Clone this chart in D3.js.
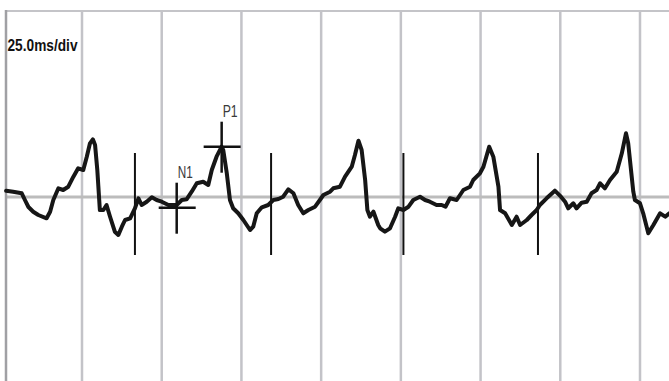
<!DOCTYPE html>
<html>
<head>
<meta charset="utf-8">
<script src="https://cdn.jsdelivr.net/npm/d3@7"></script>
<style>
  html, body { margin: 0; padding: 0; background: #fff; }
  svg { display: block; }
</style>
</head>
<body>
<div id="chart"></div>
<script>
// data (time in ms, amplitude in arbitrary units)
const traceTimes = [1.2, 3.4, 6.1, 7.1, 8.2, 9.7, 11.3, 13.9, 15.0, 16.0, 17.6, 19.1, 20.7, 22.3, 23.8,
    25.4, 26.5, 27.5, 28.4, 29.1, 29.8, 30.6, 31.7, 32.7, 33.8, 35.3, 36.4, 37.5, 38.5, 40.1,
    41.6, 42.7, 43.7, 45.3, 46.9, 48.4, 50.0, 52.1, 54.7, 56.3, 57.8, 59.4, 61.0, 63.0, 64.6,
    65.7, 67.2, 68.8, 69.3, 70.4, 71.4, 72.4, 74.0, 75.6, 77.7, 78.7, 79.8, 81.4, 83.4, 85.0,
    86.6, 88.1, 89.7, 91.3, 92.8, 94.4, 96.0, 98.1, 99.6, 100.7, 102.8, 103.8, 105.9, 107.5, 109.6,
    110.6, 111.7, 112.7, 113.8, 114.5, 115.3, 116.4, 117.9, 118.5, 120.0, 121.6, 123.2, 124.2, 125.8, 127.4,
    128.9, 131.0, 132.6, 134.1, 136.2, 137.8, 139.0, 140.4, 142.5, 144.6, 146.7, 147.7, 149.8, 150.9, 152.7,
    154.0, 155.6, 156.1, 157.7, 159.8, 161.3, 162.4, 164.5, 166.0, 167.6, 168.6, 170.7, 173.3, 175.2, 176.5,
    177.5, 179.1, 180.1, 181.7, 183.3, 184.8, 186.4, 187.5, 189.0, 190.6, 192.7, 194.3, 195.6, 196.3, 197.9,
    198.4, 200.0, 201.0, 202.6, 204.2, 206.3, 207.9, 209.2];
const traceValues = [0.63, 0.53, 0.37, -0.3, -1.0, -1.47, -1.8, -2.13, -1.47, -0.3, 0.87, 0.7, 1.03, 2.03, 2.87,
    2.7, 4.03, 5.37, 5.77, 5.2, 2.7, -1.3, -1.3, -0.8, -1.97, -3.47, -3.8, -2.97, -2.3, -2.13,
    -1.13, -0.13, -0.8, -0.47, -0.03, -0.3, -0.47, -0.8, -0.8, -0.3, -0.23, 0.53, 1.37, 1.53, 1.2,
    2.7, 4.03, 5.03, 4.7, 2.4, -0.3, -1.13, -1.63, -2.3, -3.3, -2.97, -1.63, -1.03, -0.8, -0.3,
    -0.2, 0.03, 0.77, 0.37, -0.8, -1.63, -1.3, -0.97, -0.3, 0.2, 0.53, 0.87, 1.03, 2.03, 3.03,
    4.2, 5.63, 4.7, 1.7, -1.3, -1.97, -1.47, -2.8, -3.13, -3.47, -3.13, -1.97, -1.13, -1.3, -0.97,
    -0.3, 0.03, -0.3, -0.47, -0.8, -0.8, -0.97, -0.13, -0.3, 0.7, 1.03, 1.7, 2.37, 3.03, 5.03,
    4.03, 1.03, -1.3, -1.63, -2.8, -1.97, -2.8, -2.3, -1.8, -1.3, -0.8, -0.13, 0.63, 0.03, -0.47,
    -1.13, -0.63, -1.13, -0.57, -0.47, 0.37, 0.7, 1.37, 0.87, 1.7, 2.53, 4.37, 6.37, 5.37, 0.53,
    -0.3, -0.63, -1.63, -3.63, -2.8, -1.63, -1.97, -1.63];

// division lines every 25 ms
const gridTimes = [25, 50, 75, 100, 125, 150, 175, 200];
// vertical event marks and their extent
const markerTimes = [41.6, 84.3, 125.8, 168.0];
const markerRange = [4.4, -5.8];
// labelled peaks
const peakNames = ["N1", "P1"];
const peakTimes = [54.7, 68.8];
const peakValues = [-1.07, 5.03];
const scaleLabel = "25.0ms/div";

// set dimensions
const width = 669,
    height = 381,
    frame = { left: 6, top: 11 };

// create svg
const svg = d3.select("#chart")
    .append("svg")
    .attr("width", width)
    .attr("height", height);

// scales
const xScale = d3.scaleLinear()
    .domain([25, 200])
    .range([82, 640]);

const yScale = d3.scaleLinear()
    .domain([-10, 10])
    .range([297, 97]);

// grid lines
svg.append("g")
    .selectAll("line")
    .data(gridTimes)
    .enter()
    .append("line")
    .attr("x1", d => xScale(d))
    .attr("x2", d => xScale(d))
    .attr("y1", frame.top)
    .attr("y2", height)
    .attr("stroke", "#c3c3c8")
    .attr("stroke-width", 2.5);

// zero line
svg.append("line")
    .attr("x1", frame.left)
    .attr("x2", width)
    .attr("y1", yScale(0))
    .attr("y2", yScale(0))
    .attr("stroke", "#bcbcbc")
    .attr("stroke-width", 3);

// frame top + left
svg.append("line")
    .attr("x1", frame.left)
    .attr("x2", width)
    .attr("y1", frame.top)
    .attr("y2", frame.top)
    .attr("stroke", "#c4c4c8")
    .attr("stroke-width", 2);

svg.append("line")
    .attr("x1", frame.left)
    .attr("x2", frame.left)
    .attr("y1", frame.top - 1)
    .attr("y2", height)
    .attr("stroke", "#a0a0a4")
    .attr("stroke-width", 2.5);

// event markers
svg.append("g")
    .selectAll("line")
    .data(markerTimes)
    .enter()
    .append("line")
    .attr("x1", d => xScale(d))
    .attr("x2", d => xScale(d))
    .attr("y1", yScale(markerRange[0]))
    .attr("y2", yScale(markerRange[1]))
    .attr("stroke", "#111")
    .attr("stroke-width", 2);

// trace
const trace = traceTimes.map((t, i) => [t, traceValues[i]]);
const line = d3.line()
    .x(d => xScale(d[0]))
    .y(d => yScale(d[1]));

svg.append("path")
    .datum(trace)
    .attr("d", line)
    .attr("fill", "none")
    .attr("stroke", "#161616")
    .attr("stroke-width", 4)
    .attr("stroke-linejoin", "round")
    .attr("stroke-linecap", "round");

// peak crosses
const peaks = svg.append("g")
    .selectAll("g")
    .data(peakNames.map((n, i) => ({ name: n, t: peakTimes[i], v: peakValues[i] })))
    .enter()
    .append("g")
    .attr("transform", d => `translate(${xScale(d.t)},${yScale(d.v)})`);

peaks.append("line")
    .attr("x1", 0).attr("x2", 0)
    .attr("y1", -25).attr("y2", 26)
    .attr("stroke", "#111")
    .attr("stroke-width", 2.5);

peaks.append("line")
    .attr("x1", -18).attr("x2", 19)
    .attr("y1", 0).attr("y2", 0)
    .attr("stroke", "#111")
    .attr("stroke-width", 2.5);

peaks.append("text")
    .attr("x", 8.5)
    .attr("y", -30)
    .attr("text-anchor", "middle")
    .attr("textLength", 15)
    .attr("lengthAdjust", "spacingAndGlyphs")
    .style("font-family", "'Liberation Sans Narrow', 'Liberation Sans', Arial, sans-serif")
    .style("font-size", "16px")
    .style("fill", "#3a3a3a")
    .text(d => d.name);

// scale label
svg.append("text")
    .attr("x", 7.5)
    .attr("y", 51)
    .attr("textLength", 70)
    .attr("lengthAdjust", "spacingAndGlyphs")
    .style("font-family", "'Liberation Sans Narrow', 'Liberation Sans', Arial, sans-serif")
    .style("font-weight", "bold")
    .style("font-size", "16.5px")
    .style("fill", "#111")
    .text(scaleLabel);
</script>
</body>
</html>
